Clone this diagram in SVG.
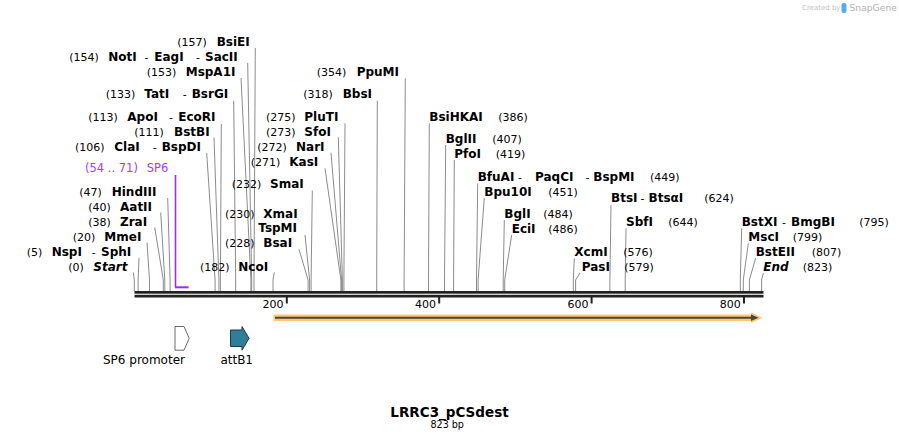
<svg xmlns="http://www.w3.org/2000/svg" width="899" height="441" viewBox="0 0 899 441">
<style>
text{font-family:"DejaVu Sans",Verdana,sans-serif;fill:#000}
.n{font-size:11px}
.b{font-size:12px;font-weight:bold}
.i{font-size:12px;font-weight:bold;font-style:italic}
.h{font-size:11px}
.p{font-size:11.5px;fill:#a13ef0}
.c{fill:none;stroke:#8c8c8c;stroke-width:1}
.tk{font-size:11px}
.fl{font-size:12px}
</style>
<rect width="899" height="441" fill="#fff"/>

<g id="watermark">
<text x="802" y="10" style="font-size:7px;fill:#c4c4c4">Created by</text>
<rect x="841.5" y="3" width="5" height="10" rx="2" fill="#56aee6"/>
<text x="849.5" y="11" style="font-size:9.2px;fill:#b2b2b2">SnapGene</text>
</g>

<g id="backbone">
<rect x="134.5" y="291" width="629" height="2.7" fill="#222"/>
<rect x="134.5" y="294.8" width="629" height="2.7" fill="#222"/>
<g fill="#222">
<rect x="285.8" y="297" width="2" height="6.5"/>
<rect x="438.2" y="297" width="2" height="6.5"/>
<rect x="590.6" y="297" width="2" height="6.5"/>
<rect x="743" y="297" width="2" height="6.5"/>
</g>
<text class="tk" x="283.5" y="307.5" text-anchor="end">200</text>
<text class="tk" x="436" y="307.5" text-anchor="end">400</text>
<text class="tk" x="588.4" y="307.5" text-anchor="end">600</text>
<text class="tk" x="740.8" y="307.5" text-anchor="end">800</text>
</g>

<g id="connectors" class="c">
<polyline points="255.3,48 254,280 254,291"/>
<polyline points="247.7,63 251.7,280 251.7,291"/>
<polyline points="241,78 250.9,280 250.9,291"/>
<polyline points="233.7,100.7 235.7,280 235.7,291"/>
<polyline points="221.3,124 220.4,280 220.4,291"/>
<polyline points="214,137.5 218.9,280 218.9,291"/>
<polyline points="206.7,153 215.1,280 215.1,291"/>
<polyline points="167.7,198 170.1,280 170.1,291"/>
<polyline points="160.7,212.5 164.8,280 164.8,291"/>
<polyline points="154.7,227.5 163.3,280 163.3,291"/>
<polyline points="147,242.5 149.5,280 149.5,291"/>
<polyline points="139,258 138.1,280 138.1,291"/>
<polyline points="133.3,272.5 134.3,280 134.3,291"/>
<polyline points="274.3,272.3 273,280 273,291"/>
<polyline points="299,249.3 308.1,280 308.1,291"/>
<polyline points="305,235 309.6,280 309.6,291"/>
<polyline points="312.3,190.7 311.1,280 311.1,291"/>
<polyline points="325,168.3 340.9,280 340.9,291"/>
<polyline points="331,152.7 341.6,280 341.6,291"/>
<polyline points="338.3,137.3 342.4,280 342.4,291"/>
<polyline points="345,123.3 343.9,280 343.9,291"/>
<polyline points="377.3,100.7 376.7,280 376.7,291"/>
<polyline points="405.3,78.3 404.1,280 404.1,291"/>
<polyline points="429.3,123.3 428.5,280 428.5,291"/>
<polyline points="445.7,145 444.5,280 444.5,291"/>
<polyline points="454.3,160 453.6,280 453.6,291"/>
<polyline points="477.7,183.3 476.5,280 476.5,291"/>
<polyline points="484.3,198 478.1,280 478.1,291"/>
<polyline points="504.3,220 503.2,280 503.2,291"/>
<polyline points="511.7,235 504.7,280 504.7,291"/>
<polyline points="574.3,258.3 573.3,280 573.3,291"/>
<polyline points="580,273 575.6,280 575.6,291"/>
<polyline points="611,205 609.9,280 609.9,291"/>
<polyline points="626,228.3 625.2,280 625.2,291"/>
<polyline points="741.7,228.3 740.3,280 740.3,291"/>
<polyline points="748.3,243.3 743.3,280 743.3,291"/>
<polyline points="755.7,258 749.4,280 749.4,291"/>
<polyline points="763.3,273 761.6,280 761.6,291"/>
<polyline points="175.5,175 175.5,287.3" style="stroke:#9b30e8;stroke-width:1.6"/>
<line x1="175" y1="287.3" x2="188.6" y2="287.3" style="stroke:#9b30e8;stroke-width:2"/>
</g>

<g id="BsiEI"><text y="46"><tspan class="n" x="177.3">(157)</tspan><tspan class="b" x="216.7">BsiEI</tspan></text></g>
<g id="NotI"><text y="61"><tspan class="n" x="69.3">(154)</tspan><tspan class="b" x="108.3">NotI</tspan><tspan class="h" x="144.5">-</tspan><tspan class="b" x="154.3">EagI</tspan><tspan class="h" x="196">-</tspan><tspan class="b" x="205">SacII</tspan></text></g>
<g id="MspA1I"><text y="76"><tspan class="n" x="146.7">(153)</tspan><tspan class="b" x="185.7">MspA1I</tspan></text></g>
<g id="TatI"><text y="98"><tspan class="n" x="105.7">(133)</tspan><tspan class="b" x="144.3">TatI</tspan><tspan class="h" x="182.7">-</tspan><tspan class="b" x="191.7">BsrGI</tspan></text></g>
<g id="ApoI"><text y="121"><tspan class="n" x="88.3">(113)</tspan><tspan class="b" x="127.3">ApoI</tspan><tspan class="h" x="169">-</tspan><tspan class="b" x="178.3">EcoRI</tspan></text></g>
<g id="BstBI"><text y="136"><tspan class="n" x="134.3">(111)</tspan><tspan class="b" x="174">BstBI</tspan></text></g>
<g id="ClaI"><text y="151"><tspan class="n" x="75">(106)</tspan><tspan class="b" x="114.3">ClaI</tspan><tspan class="h" x="152.7">-</tspan><tspan class="b" x="161.7">BspDI</tspan></text></g>
<g id="SP6"><text y="172" class="p"><tspan x="85">(54 .. 71)</tspan><tspan x="146.7">SP6</tspan></text></g>
<g id="HindIII"><text y="196"><tspan class="n" x="79.3">(47)</tspan><tspan class="b" x="111.7">HindIII</tspan></text></g>
<g id="AatII"><text y="211"><tspan class="n" x="88.3">(40)</tspan><tspan class="b" x="120">AatII</tspan></text></g>
<g id="ZraI"><text y="226"><tspan class="n" x="88.3">(38)</tspan><tspan class="b" x="120">ZraI</tspan></text></g>
<g id="MmeI"><text y="241"><tspan class="n" x="72.7">(20)</tspan><tspan class="b" x="104.3">MmeI</tspan></text></g>
<g id="NspI"><text y="256"><tspan class="n" x="26.7">(5)</tspan><tspan class="b" x="51.7">NspI</tspan><tspan class="h" x="91.7">-</tspan><tspan class="b" x="101">SphI</tspan></text></g>
<g id="Start"><text y="271"><tspan class="n" x="68.3">(0)</tspan><tspan class="i" x="93.3">Start</tspan></text></g>
<g id="NcoI"><text y="270.5"><tspan class="n" x="200">(182)</tspan><tspan class="b" x="238.3">NcoI</tspan></text></g>
<g id="BsaI"><text y="246.7"><tspan class="n" x="225">(228)</tspan><tspan class="b" x="263.3">BsaI</tspan></text></g>
<g id="TspMI"><text y="231.7"><tspan class="b" x="258.3">TspMI</tspan></text></g>
<g id="XmaI"><text y="217.5"><tspan class="n" x="225">(230)</tspan><tspan class="b" x="263.3">XmaI</tspan></text></g>
<g id="SmaI"><text y="187.5"><tspan class="n" x="231.7">(232)</tspan><tspan class="b" x="270">SmaI</tspan></text></g>
<g id="KasI"><text y="166"><tspan class="n" x="250.7">(271)</tspan><tspan class="b" x="289.3">KasI</tspan></text></g>
<g id="NarI"><text y="151"><tspan class="n" x="257.3">(272)</tspan><tspan class="b" x="296">NarI</tspan></text></g>
<g id="SfoI"><text y="136"><tspan class="n" x="266">(273)</tspan><tspan class="b" x="304.3">SfoI</tspan></text></g>
<g id="PluTI"><text y="121"><tspan class="n" x="266">(275)</tspan><tspan class="b" x="304.3">PluTI</tspan></text></g>
<g id="BbsI"><text y="98"><tspan class="n" x="303.3">(318)</tspan><tspan class="b" x="342.7">BbsI</tspan></text></g>
<g id="PpuMI"><text y="76"><tspan class="n" x="316.7">(354)</tspan><tspan class="b" x="356.7">PpuMI</tspan></text></g>

<g id="BsiHKAI"><text y="121"><tspan class="b" x="429.3">BsiHKAI</tspan><tspan class="n" x="498.3">(386)</tspan></text></g>
<g id="BglII"><text y="143"><tspan class="b" x="445.7">BglII</tspan><tspan class="n" x="492.3">(407)</tspan></text></g>
<g id="PfoI"><text y="158"><tspan class="b" x="454.3">PfoI</tspan><tspan class="n" x="495.7">(419)</tspan></text></g>
<g id="BfuAI"><text y="181"><tspan class="b" x="477.7">BfuAI</tspan><tspan class="h" x="518">-</tspan><tspan class="b" x="535">PaqCI</tspan><tspan class="h" x="585.5">-</tspan><tspan class="b" x="593.3">BspMI</tspan><tspan class="n" x="650">(449)</tspan></text></g>
<g id="Bpu10I"><text y="196"><tspan class="b" x="484.3">Bpu10I</tspan><tspan class="n" x="548.3">(451)</tspan></text></g>
<g id="BglI"><text y="218"><tspan class="b" x="504.3">BglI</tspan><tspan class="n" x="543.3">(484)</tspan></text></g>
<g id="EciI"><text y="233"><tspan class="b" x="511.7">EciI</tspan><tspan class="n" x="548.3">(486)</tspan></text></g>
<g id="XcmI"><text y="256"><tspan class="b" x="574.3">XcmI</tspan><tspan class="n" x="623.3">(576)</tspan></text></g>
<g id="PasI"><text y="271"><tspan class="b" x="581.7">PasI</tspan><tspan class="n" x="624.3">(579)</tspan></text></g>
<g id="BtsI"><text y="202"><tspan class="b" x="611">BtsI</tspan><tspan class="h" x="640.5">-</tspan><tspan class="b" x="648.5">BtsαI</tspan><tspan class="n" x="704.3">(624)</tspan></text></g>
<g id="SbfI"><text y="226"><tspan class="b" x="626">SbfI</tspan><tspan class="n" x="668.3">(644)</tspan></text></g>
<g id="BstXI"><text y="226"><tspan class="b" x="741.7">BstXI</tspan><tspan class="h" x="782">-</tspan><tspan class="b" x="791">BmgBI</tspan><tspan class="n" x="859.3">(795)</tspan></text></g>
<g id="MscI"><text y="241"><tspan class="b" x="748.3">MscI</tspan><tspan class="n" x="792.7">(799)</tspan></text></g>
<g id="BstEII"><text y="256"><tspan class="b" x="755.7">BstEII</tspan><tspan class="n" x="811.7">(807)</tspan></text></g>
<g id="End"><text y="271"><tspan class="i" x="763.3">End</tspan><tspan class="n" x="802.7">(823)</tspan></text></g>

<g id="ORF">
<polygon points="273.5,314.6 751,314.6 751,312.6 762.5,317.8 751,323 751,321 273.5,321" fill="#fcca73"/>
<line x1="275" y1="317.8" x2="752" y2="317.8" stroke="#4e4438" stroke-width="2"/>
<polygon points="751,314.6 758.6,317.8 751,321" fill="#4e4438"/>
</g>

<g id="SP6-promoter">
<polygon points="175,326.5 184,326.5 189.2,338.3 184,350.2 175,350.2" fill="#fff" stroke="#6a6a6a" stroke-width="1"/>
<text class="fl" x="144" y="363.5" text-anchor="middle">SP6 promoter</text>
</g>
<g id="attB1">
<polygon points="230.5,330 242,330 242,326.5 249,338.3 242,350.2 242,346.5 230.5,346.5" fill="#2f7f99" stroke="#1e3a44" stroke-width="1"/>
<text class="fl" x="236.7" y="363.5" text-anchor="middle">attB1</text>
</g>

<g id="title">
<text x="449.5" y="416.5" text-anchor="middle" style="font-size:13.5px;font-weight:bold">LRRC3_pCSdest</text>
<text x="447.2" y="428" text-anchor="middle" style="font-size:9.6px">823 bp</text>
</g>
</svg>
